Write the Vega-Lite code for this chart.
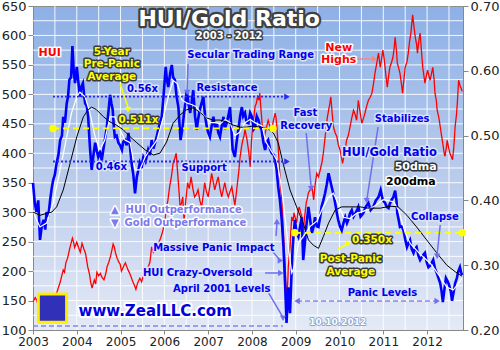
{
"$schema":"https://vega.github.io/schema/vega-lite/v6.json",
"width":430,"height":324,
"autosize":{"type":"none"},
"padding":{"left":33,"top":6,"right":37,"bottom":20},
"background":"white",
"view":{"fill":{"gradient":"linear","x1":0,"y1":0,"x2":0,"y2":1,"stops":[{"offset":0,"color":"#8db0e6"},{"offset":0.55,"color":"#bccdec"},{"offset":1,"color":"#e4eaf6"}]},"stroke":"#8c8c8c","strokeWidth":1},
"config":{"font":"DejaVu Sans","axis":{"labelFont":"DejaVu Sans","labelFontSize":13,"labelColor":"#222","domainColor":"#888","tickColor":"#888","title":null,"labelFlush":false,"labelOverlap":false,"grid":false}},
"datasets":{
"gridT":[{"t":2003.5},{"t":2004},{"t":2004.5},{"t":2005},{"t":2005.5},{"t":2006},{"t":2006.5},{"t":2007},{"t":2007.5},{"t":2008},{"t":2008.5},{"t":2009},{"t":2009.5},{"t":2010},{"t":2010.5},{"t":2011},{"t":2011.5},{"t":2012},{"t":2012.5}],
"gridV":[{"v":125},{"v":150},{"v":175},{"v":200},{"v":225},{"v":250},{"v":275},{"v":300},{"v":325},{"v":350},{"v":375},{"v":400},{"v":425},{"v":450},{"v":475},{"v":500},{"v":525},{"v":550},{"v":575},{"v":600},{"v":625}],
"hui":[{"t":2003.00,"v":148},{"t":2003.05,"v":155},{"t":2003.09,"v":150},{"t":2003.12,"v":140},{"t":2003.16,"v":133},{"t":2003.20,"v":128},{"t":2003.25,"v":130},{"t":2003.30,"v":125},{"t":2003.34,"v":138},{"t":2003.38,"v":145},{"t":2003.42,"v":142},{"t":2003.45,"v":150},{"t":2003.49,"v":155},{"t":2003.52,"v":160},{"t":2003.55,"v":165},{"t":2003.58,"v":172},{"t":2003.62,"v":181},{"t":2003.65,"v":190},{"t":2003.69,"v":202},{"t":2003.72,"v":198},{"t":2003.75,"v":214},{"t":2003.79,"v":222},{"t":2003.82,"v":232},{"t":2003.86,"v":245},{"t":2003.90,"v":256},{"t":2003.93,"v":248},{"t":2003.95,"v":240},{"t":2004.00,"v":249},{"t":2004.04,"v":240},{"t":2004.08,"v":232},{"t":2004.12,"v":247},{"t":2004.16,"v":238},{"t":2004.20,"v":230},{"t":2004.25,"v":207},{"t":2004.29,"v":195},{"t":2004.32,"v":180},{"t":2004.35,"v":171},{"t":2004.38,"v":180},{"t":2004.40,"v":185},{"t":2004.43,"v":178},{"t":2004.46,"v":198},{"t":2004.50,"v":192},{"t":2004.54,"v":196},{"t":2004.57,"v":190},{"t":2004.62,"v":185},{"t":2004.66,"v":195},{"t":2004.69,"v":207},{"t":2004.73,"v":215},{"t":2004.77,"v":225},{"t":2004.80,"v":235},{"t":2004.83,"v":246},{"t":2004.86,"v":240},{"t":2004.88,"v":232},{"t":2004.92,"v":222},{"t":2004.96,"v":215},{"t":2004.99,"v":212},{"t":2005.02,"v":200},{"t":2005.05,"v":205},{"t":2005.08,"v":210},{"t":2005.11,"v":214},{"t":2005.14,"v":208},{"t":2005.17,"v":202},{"t":2005.21,"v":196},{"t":2005.24,"v":190},{"t":2005.29,"v":180},{"t":2005.32,"v":175},{"t":2005.35,"v":169},{"t":2005.39,"v":180},{"t":2005.44,"v":188},{"t":2005.48,"v":182},{"t":2005.52,"v":192},{"t":2005.56,"v":198},{"t":2005.59,"v":195},{"t":2005.62,"v":205},{"t":2005.67,"v":215},{"t":2005.71,"v":241},{"t":2005.75,"v":232},{"t":2005.79,"v":236},{"t":2005.83,"v":242},{"t":2005.87,"v":248},{"t":2005.90,"v":253},{"t":2005.94,"v":262},{"t":2005.97,"v":270},{"t":2006.01,"v":285},{"t":2006.04,"v":304},{"t":2006.08,"v":320},{"t":2006.12,"v":343},{"t":2006.16,"v":360},{"t":2006.20,"v":383},{"t":2006.24,"v":392},{"t":2006.27,"v":400},{"t":2006.31,"v":360},{"t":2006.36,"v":309},{"t":2006.39,"v":315},{"t":2006.42,"v":326},{"t":2006.45,"v":285},{"t":2006.49,"v":320},{"t":2006.53,"v":350},{"t":2006.57,"v":340},{"t":2006.61,"v":360},{"t":2006.65,"v":340},{"t":2006.69,"v":326},{"t":2006.73,"v":330},{"t":2006.77,"v":338},{"t":2006.81,"v":320},{"t":2006.85,"v":309},{"t":2006.89,"v":330},{"t":2006.92,"v":350},{"t":2006.96,"v":335},{"t":2007.00,"v":326},{"t":2007.04,"v":345},{"t":2007.08,"v":366},{"t":2007.12,"v":350},{"t":2007.15,"v":338},{"t":2007.19,"v":350},{"t":2007.23,"v":360},{"t":2007.27,"v":340},{"t":2007.31,"v":326},{"t":2007.35,"v":340},{"t":2007.38,"v":350},{"t":2007.42,"v":335},{"t":2007.46,"v":326},{"t":2007.50,"v":335},{"t":2007.54,"v":343},{"t":2007.58,"v":325},{"t":2007.61,"v":312},{"t":2007.64,"v":330},{"t":2007.67,"v":350},{"t":2007.70,"v":370},{"t":2007.73,"v":394},{"t":2007.76,"v":410},{"t":2007.79,"v":422},{"t":2007.82,"v":430},{"t":2007.84,"v":440},{"t":2007.87,"v":430},{"t":2007.89,"v":422},{"t":2007.93,"v":400},{"t":2007.96,"v":377},{"t":2007.99,"v":420},{"t":2008.02,"v":451},{"t":2008.05,"v":465},{"t":2008.07,"v":479},{"t":2008.10,"v":485},{"t":2008.13,"v":496},{"t":2008.16,"v":490},{"t":2008.18,"v":502},{"t":2008.20,"v":480},{"t":2008.22,"v":462},{"t":2008.24,"v":440},{"t":2008.26,"v":422},{"t":2008.29,"v":430},{"t":2008.32,"v":440},{"t":2008.35,"v":450},{"t":2008.37,"v":456},{"t":2008.41,"v":445},{"t":2008.45,"v":440},{"t":2008.49,"v":455},{"t":2008.53,"v":468},{"t":2008.55,"v":460},{"t":2008.57,"v":445},{"t":2008.60,"v":410},{"t":2008.63,"v":372},{"t":2008.66,"v":340},{"t":2008.68,"v":321},{"t":2008.70,"v":295},{"t":2008.72,"v":265},{"t":2008.74,"v":235},{"t":2008.76,"v":207},{"t":2008.78,"v":170},{"t":2008.80,"v":155},{"t":2008.82,"v":185},{"t":2008.83,"v":207},{"t":2008.85,"v":225},{"t":2008.87,"v":241},{"t":2008.89,"v":270},{"t":2008.91,"v":292},{"t":2008.94,"v":285},{"t":2008.96,"v":299},{"t":2008.99,"v":290},{"t":2009.02,"v":282},{"t":2009.05,"v":300},{"t":2009.08,"v":309},{"t":2009.11,"v":300},{"t":2009.14,"v":292},{"t":2009.17,"v":265},{"t":2009.20,"v":290},{"t":2009.24,"v":316},{"t":2009.27,"v":325},{"t":2009.29,"v":333},{"t":2009.33,"v":338},{"t":2009.37,"v":343},{"t":2009.41,"v":321},{"t":2009.44,"v":345},{"t":2009.48,"v":366},{"t":2009.52,"v":360},{"t":2009.56,"v":372},{"t":2009.60,"v":385},{"t":2009.63,"v":400},{"t":2009.66,"v":420},{"t":2009.69,"v":440},{"t":2009.72,"v":460},{"t":2009.75,"v":473},{"t":2009.78,"v":485},{"t":2009.80,"v":496},{"t":2009.83,"v":470},{"t":2009.86,"v":445},{"t":2009.90,"v":435},{"t":2009.94,"v":428},{"t":2009.97,"v":415},{"t":2010.01,"v":406},{"t":2010.04,"v":395},{"t":2010.07,"v":383},{"t":2010.10,"v":395},{"t":2010.13,"v":406},{"t":2010.16,"v":422},{"t":2010.20,"v":430},{"t":2010.24,"v":445},{"t":2010.28,"v":460},{"t":2010.32,"v":473},{"t":2010.36,"v":465},{"t":2010.39,"v":456},{"t":2010.43,"v":490},{"t":2010.47,"v":470},{"t":2010.51,"v":451},{"t":2010.55,"v":460},{"t":2010.58,"v":468},{"t":2010.62,"v":480},{"t":2010.66,"v":490},{"t":2010.70,"v":495},{"t":2010.74,"v":502},{"t":2010.78,"v":520},{"t":2010.81,"v":536},{"t":2010.85,"v":553},{"t":2010.89,"v":570},{"t":2010.93,"v":546},{"t":2010.96,"v":560},{"t":2010.99,"v":575},{"t":2011.02,"v":560},{"t":2011.04,"v":546},{"t":2011.07,"v":525},{"t":2011.09,"v":512},{"t":2011.12,"v":530},{"t":2011.15,"v":546},{"t":2011.19,"v":555},{"t":2011.22,"v":563},{"t":2011.25,"v":580},{"t":2011.27,"v":597},{"t":2011.30,"v":575},{"t":2011.32,"v":553},{"t":2011.35,"v":545},{"t":2011.38,"v":536},{"t":2011.41,"v":520},{"t":2011.44,"v":502},{"t":2011.47,"v":525},{"t":2011.50,"v":546},{"t":2011.54,"v":555},{"t":2011.57,"v":570},{"t":2011.60,"v":590},{"t":2011.63,"v":604},{"t":2011.65,"v":620},{"t":2011.67,"v":635},{"t":2011.70,"v":615},{"t":2011.73,"v":597},{"t":2011.76,"v":585},{"t":2011.78,"v":570},{"t":2011.81,"v":590},{"t":2011.84,"v":604},{"t":2011.87,"v":575},{"t":2011.90,"v":546},{"t":2011.93,"v":530},{"t":2011.95,"v":519},{"t":2011.98,"v":530},{"t":2012.01,"v":541},{"t":2012.04,"v":532},{"t":2012.07,"v":524},{"t":2012.10,"v":535},{"t":2012.13,"v":546},{"t":2012.16,"v":525},{"t":2012.18,"v":502},{"t":2012.21,"v":490},{"t":2012.23,"v":473},{"t":2012.27,"v":460},{"t":2012.30,"v":445},{"t":2012.33,"v":430},{"t":2012.37,"v":411},{"t":2012.39,"v":400},{"t":2012.41,"v":395},{"t":2012.44,"v":410},{"t":2012.46,"v":422},{"t":2012.49,"v":410},{"t":2012.52,"v":400},{"t":2012.55,"v":395},{"t":2012.58,"v":389},{"t":2012.61,"v":410},{"t":2012.64,"v":445},{"t":2012.67,"v":465},{"t":2012.69,"v":485},{"t":2012.72,"v":524},{"t":2012.75,"v":515},{"t":2012.77,"v":512},{"t":2012.80,"v":505}],
"ratio":[{"t":2003.00,"r":0.427},{"t":2003.04,"r":0.396},{"t":2003.08,"r":0.382},{"t":2003.12,"r":0.40},{"t":2003.16,"r":0.339},{"t":2003.20,"r":0.36},{"t":2003.24,"r":0.37},{"t":2003.28,"r":0.355},{"t":2003.31,"r":0.382},{"t":2003.35,"r":0.375},{"t":2003.39,"r":0.40},{"t":2003.43,"r":0.42},{"t":2003.46,"r":0.431},{"t":2003.50,"r":0.44},{"t":2003.54,"r":0.458},{"t":2003.58,"r":0.47},{"t":2003.62,"r":0.493},{"t":2003.66,"r":0.50},{"t":2003.69,"r":0.529},{"t":2003.73,"r":0.52},{"t":2003.77,"r":0.550},{"t":2003.80,"r":0.56},{"t":2003.83,"r":0.586},{"t":2003.87,"r":0.59},{"t":2003.90,"r":0.638},{"t":2003.93,"r":0.60},{"t":2003.96,"r":0.581},{"t":2004.00,"r":0.606},{"t":2004.04,"r":0.58},{"t":2004.07,"r":0.560},{"t":2004.10,"r":0.575},{"t":2004.14,"r":0.581},{"t":2004.17,"r":0.56},{"t":2004.19,"r":0.550},{"t":2004.23,"r":0.545},{"t":2004.26,"r":0.529},{"t":2004.30,"r":0.482},{"t":2004.34,"r":0.447},{"t":2004.38,"r":0.47},{"t":2004.42,"r":0.489},{"t":2004.46,"r":0.475},{"t":2004.49,"r":0.467},{"t":2004.53,"r":0.475},{"t":2004.57,"r":0.462},{"t":2004.61,"r":0.48},{"t":2004.64,"r":0.493},{"t":2004.68,"r":0.51},{"t":2004.72,"r":0.535},{"t":2004.76,"r":0.563},{"t":2004.79,"r":0.55},{"t":2004.82,"r":0.540},{"t":2004.85,"r":0.51},{"t":2004.87,"r":0.498},{"t":2004.91,"r":0.50},{"t":2004.95,"r":0.489},{"t":2004.99,"r":0.485},{"t":2005.03,"r":0.478},{"t":2005.06,"r":0.49},{"t":2005.10,"r":0.493},{"t":2005.14,"r":0.485},{"t":2005.18,"r":0.504},{"t":2005.22,"r":0.48},{"t":2005.25,"r":0.458},{"t":2005.29,"r":0.44},{"t":2005.33,"r":0.411},{"t":2005.37,"r":0.436},{"t":2005.40,"r":0.445},{"t":2005.44,"r":0.458},{"t":2005.48,"r":0.45},{"t":2005.52,"r":0.467},{"t":2005.57,"r":0.46},{"t":2005.63,"r":0.478},{"t":2005.67,"r":0.47},{"t":2005.71,"r":0.493},{"t":2005.75,"r":0.48},{"t":2005.79,"r":0.489},{"t":2005.83,"r":0.50},{"t":2005.86,"r":0.509},{"t":2005.90,"r":0.52},{"t":2005.94,"r":0.529},{"t":2005.98,"r":0.56},{"t":2006.03,"r":0.606},{"t":2006.06,"r":0.585},{"t":2006.09,"r":0.575},{"t":2006.13,"r":0.595},{"t":2006.17,"r":0.609},{"t":2006.20,"r":0.59},{"t":2006.24,"r":0.586},{"t":2006.28,"r":0.56},{"t":2006.32,"r":0.544},{"t":2006.37,"r":0.493},{"t":2006.41,"r":0.51},{"t":2006.45,"r":0.535},{"t":2006.48,"r":0.55},{"t":2006.51,"r":0.570},{"t":2006.55,"r":0.55},{"t":2006.59,"r":0.535},{"t":2006.62,"r":0.55},{"t":2006.66,"r":0.570},{"t":2006.70,"r":0.53},{"t":2006.74,"r":0.509},{"t":2006.77,"r":0.525},{"t":2006.81,"r":0.540},{"t":2006.85,"r":0.55},{"t":2006.89,"r":0.560},{"t":2006.93,"r":0.53},{"t":2006.97,"r":0.513},{"t":2007.00,"r":0.505},{"t":2007.04,"r":0.498},{"t":2007.08,"r":0.515},{"t":2007.12,"r":0.529},{"t":2007.16,"r":0.51},{"t":2007.20,"r":0.519},{"t":2007.23,"r":0.505},{"t":2007.27,"r":0.498},{"t":2007.31,"r":0.515},{"t":2007.35,"r":0.529},{"t":2007.38,"r":0.51},{"t":2007.42,"r":0.519},{"t":2007.46,"r":0.53},{"t":2007.50,"r":0.544},{"t":2007.53,"r":0.51},{"t":2007.56,"r":0.478},{"t":2007.61,"r":0.467},{"t":2007.65,"r":0.49},{"t":2007.69,"r":0.509},{"t":2007.73,"r":0.53},{"t":2007.77,"r":0.544},{"t":2007.80,"r":0.53},{"t":2007.84,"r":0.535},{"t":2007.88,"r":0.52},{"t":2007.92,"r":0.519},{"t":2007.96,"r":0.535},{"t":2008.00,"r":0.529},{"t":2008.04,"r":0.51},{"t":2008.07,"r":0.513},{"t":2008.11,"r":0.53},{"t":2008.15,"r":0.524},{"t":2008.18,"r":0.515},{"t":2008.22,"r":0.509},{"t":2008.26,"r":0.49},{"t":2008.30,"r":0.478},{"t":2008.34,"r":0.49},{"t":2008.37,"r":0.493},{"t":2008.41,"r":0.48},{"t":2008.45,"r":0.473},{"t":2008.50,"r":0.47},{"t":2008.56,"r":0.45},{"t":2008.60,"r":0.421},{"t":2008.64,"r":0.40},{"t":2008.68,"r":0.370},{"t":2008.72,"r":0.328},{"t":2008.76,"r":0.266},{"t":2008.79,"r":0.211},{"t":2008.81,"r":0.24},{"t":2008.83,"r":0.266},{"t":2008.87,"r":0.226},{"t":2008.90,"r":0.28},{"t":2008.93,"r":0.328},{"t":2008.98,"r":0.370},{"t":2009.02,"r":0.35},{"t":2009.06,"r":0.344},{"t":2009.10,"r":0.36},{"t":2009.14,"r":0.374},{"t":2009.17,"r":0.308},{"t":2009.21,"r":0.335},{"t":2009.24,"r":0.359},{"t":2009.29,"r":0.390},{"t":2009.33,"r":0.37},{"t":2009.37,"r":0.350},{"t":2009.41,"r":0.36},{"t":2009.44,"r":0.374},{"t":2009.48,"r":0.36},{"t":2009.52,"r":0.359},{"t":2009.56,"r":0.375},{"t":2009.59,"r":0.390},{"t":2009.63,"r":0.40},{"t":2009.67,"r":0.411},{"t":2009.71,"r":0.425},{"t":2009.75,"r":0.442},{"t":2009.79,"r":0.43},{"t":2009.82,"r":0.421},{"t":2009.86,"r":0.41},{"t":2009.90,"r":0.396},{"t":2009.94,"r":0.38},{"t":2009.97,"r":0.370},{"t":2010.01,"r":0.36},{"t":2010.05,"r":0.354},{"t":2010.09,"r":0.365},{"t":2010.13,"r":0.374},{"t":2010.17,"r":0.365},{"t":2010.20,"r":0.370},{"t":2010.24,"r":0.38},{"t":2010.28,"r":0.385},{"t":2010.32,"r":0.375},{"t":2010.36,"r":0.380},{"t":2010.40,"r":0.385},{"t":2010.43,"r":0.390},{"t":2010.48,"r":0.375},{"t":2010.54,"r":0.380},{"t":2010.60,"r":0.39},{"t":2010.66,"r":0.396},{"t":2010.71,"r":0.385},{"t":2010.77,"r":0.390},{"t":2010.83,"r":0.40},{"t":2010.89,"r":0.405},{"t":2010.94,"r":0.416},{"t":2010.99,"r":0.40},{"t":2011.04,"r":0.396},{"t":2011.08,"r":0.39},{"t":2011.12,"r":0.388},{"t":2011.15,"r":0.395},{"t":2011.19,"r":0.401},{"t":2011.23,"r":0.405},{"t":2011.27,"r":0.415},{"t":2011.30,"r":0.40},{"t":2011.32,"r":0.380},{"t":2011.35,"r":0.37},{"t":2011.38,"r":0.359},{"t":2011.42,"r":0.36},{"t":2011.46,"r":0.354},{"t":2011.50,"r":0.34},{"t":2011.54,"r":0.328},{"t":2011.58,"r":0.335},{"t":2011.61,"r":0.339},{"t":2011.65,"r":0.325},{"t":2011.69,"r":0.319},{"t":2011.72,"r":0.325},{"t":2011.76,"r":0.328},{"t":2011.80,"r":0.315},{"t":2011.84,"r":0.308},{"t":2011.90,"r":0.315},{"t":2011.95,"r":0.319},{"t":2011.99,"r":0.305},{"t":2012.03,"r":0.297},{"t":2012.08,"r":0.30},{"t":2012.14,"r":0.308},{"t":2012.18,"r":0.295},{"t":2012.21,"r":0.290},{"t":2012.26,"r":0.28},{"t":2012.30,"r":0.272},{"t":2012.33,"r":0.26},{"t":2012.36,"r":0.243},{"t":2012.40,"r":0.265},{"t":2012.43,"r":0.280},{"t":2012.47,"r":0.275},{"t":2012.50,"r":0.270},{"t":2012.54,"r":0.26},{"t":2012.57,"r":0.245},{"t":2012.61,"r":0.26},{"t":2012.64,"r":0.272},{"t":2012.68,"r":0.28},{"t":2012.71,"r":0.290},{"t":2012.75,"r":0.297},{"t":2012.78,"r":0.288},{"t":2012.80,"r":0.285}],
"ma50":[{"t":2003.00,"r":0.385},{"t":2003.08,"r":0.37},{"t":2003.16,"r":0.359},{"t":2003.31,"r":0.365},{"t":2003.46,"r":0.396},{"t":2003.62,"r":0.447},{"t":2003.77,"r":0.498},{"t":2003.88,"r":0.535},{"t":2004.00,"r":0.560},{"t":2004.07,"r":0.567},{"t":2004.19,"r":0.560},{"t":2004.30,"r":0.535},{"t":2004.42,"r":0.498},{"t":2004.53,"r":0.478},{"t":2004.64,"r":0.493},{"t":2004.76,"r":0.529},{"t":2004.87,"r":0.529},{"t":2004.99,"r":0.509},{"t":2005.10,"r":0.493},{"t":2005.22,"r":0.489},{"t":2005.33,"r":0.447},{"t":2005.44,"r":0.447},{"t":2005.56,"r":0.467},{"t":2005.67,"r":0.478},{"t":2005.83,"r":0.493},{"t":2005.98,"r":0.529},{"t":2006.09,"r":0.560},{"t":2006.20,"r":0.585},{"t":2006.30,"r":0.580},{"t":2006.40,"r":0.555},{"t":2006.52,"r":0.550},{"t":2006.62,"r":0.548},{"t":2006.72,"r":0.545},{"t":2006.83,"r":0.535},{"t":2006.93,"r":0.530},{"t":2007.05,"r":0.52},{"t":2007.16,"r":0.52},{"t":2007.28,"r":0.518},{"t":2007.39,"r":0.525},{"t":2007.50,"r":0.52},{"t":2007.61,"r":0.50},{"t":2007.72,"r":0.505},{"t":2007.84,"r":0.52},{"t":2007.96,"r":0.525},{"t":2008.07,"r":0.52},{"t":2008.23,"r":0.515},{"t":2008.32,"r":0.49},{"t":2008.41,"r":0.48},{"t":2008.50,"r":0.47},{"t":2008.57,"r":0.462},{"t":2008.65,"r":0.43},{"t":2008.72,"r":0.396},{"t":2008.78,"r":0.36},{"t":2008.83,"r":0.328},{"t":2008.91,"r":0.288},{"t":2008.98,"r":0.300},{"t":2009.06,"r":0.334},{"t":2009.17,"r":0.344},{"t":2009.33,"r":0.360},{"t":2009.48,"r":0.368},{"t":2009.63,"r":0.390},{"t":2009.75,"r":0.405},{"t":2009.86,"r":0.411},{"t":2009.97,"r":0.395},{"t":2010.09,"r":0.374},{"t":2010.24,"r":0.372},{"t":2010.39,"r":0.380},{"t":2010.54,"r":0.383},{"t":2010.77,"r":0.390},{"t":2011.00,"r":0.401},{"t":2011.23,"r":0.398},{"t":2011.35,"r":0.385},{"t":2011.50,"r":0.350},{"t":2011.61,"r":0.334},{"t":2011.84,"r":0.317},{"t":2012.07,"r":0.303},{"t":2012.30,"r":0.282},{"t":2012.45,"r":0.266},{"t":2012.60,"r":0.262},{"t":2012.75,"r":0.275},{"t":2012.80,"r":0.280}],
"ma200":[{"t":2003.00,"r":0.382},{"t":2003.16,"r":0.377},{"t":2003.31,"r":0.380},{"t":2003.43,"r":0.382},{"t":2003.54,"r":0.390},{"t":2003.69,"r":0.416},{"t":2003.85,"r":0.458},{"t":2004.00,"r":0.498},{"t":2004.15,"r":0.529},{"t":2004.26,"r":0.540},{"t":2004.34,"r":0.544},{"t":2004.45,"r":0.540},{"t":2004.61,"r":0.529},{"t":2004.76,"r":0.521},{"t":2004.91,"r":0.516},{"t":2005.06,"r":0.509},{"t":2005.22,"r":0.498},{"t":2005.37,"r":0.489},{"t":2005.56,"r":0.478},{"t":2005.75,"r":0.470},{"t":2005.90,"r":0.473},{"t":2006.05,"r":0.490},{"t":2006.20,"r":0.519},{"t":2006.36,"r":0.532},{"t":2006.51,"r":0.540},{"t":2006.66,"r":0.543},{"t":2006.81,"r":0.536},{"t":2006.97,"r":0.527},{"t":2007.12,"r":0.524},{"t":2007.27,"r":0.524},{"t":2007.42,"r":0.521},{"t":2007.58,"r":0.516},{"t":2007.73,"r":0.513},{"t":2007.88,"r":0.513},{"t":2008.03,"r":0.515},{"t":2008.18,"r":0.513},{"t":2008.34,"r":0.512},{"t":2008.49,"r":0.504},{"t":2008.60,"r":0.489},{"t":2008.72,"r":0.455},{"t":2008.87,"r":0.416},{"t":2009.02,"r":0.390},{"t":2009.17,"r":0.365},{"t":2009.29,"r":0.339},{"t":2009.40,"r":0.331},{"t":2009.52,"r":0.326},{"t":2009.63,"r":0.344},{"t":2009.75,"r":0.365},{"t":2009.90,"r":0.385},{"t":2010.05,"r":0.390},{"t":2010.24,"r":0.390},{"t":2010.47,"r":0.390},{"t":2010.66,"r":0.388},{"t":2010.93,"r":0.388},{"t":2011.15,"r":0.391},{"t":2011.34,"r":0.390},{"t":2011.54,"r":0.377},{"t":2011.76,"r":0.359},{"t":2011.99,"r":0.339},{"t":2012.22,"r":0.319},{"t":2012.45,"r":0.300},{"t":2012.64,"r":0.290},{"t":2012.75,"r":0.285},{"t":2012.80,"r":0.283}],
"levelsBlue":[{"t1":2003.457,"t2":2008.78,"r":0.56},{"t1":2003.457,"t2":2008.78,"r":0.46}],
"levelsYellow":[{"t1":2003.457,"t2":2008.48,"r":0.511},{"t1":2008.98,"t2":2012.80,"r":0.35}],
"dots":[{"t":2003.457,"r":0.511},{"t":2008.48,"r":0.511},{"t":2008.98,"r":0.35},{"t":2012.80,"r":0.35}],
"dashes":[{"t1":2009.03,"t2":2012.23,"v":149.2},{"t1":2003.0,"t2":2008.71,"v":106.8}],
"arrows":[{"t":2004.99,"v":517.6,"t2":2005.17,"v2":478,"kind":"yellow"},{"t":2006.54,"v":551.5,"t2":2006.52,"v2":507,"kind":"lav"},{"t":2010.40,"v":560,"t2":2010.77,"v2":560,"kind":"pink"},{"t":2009.24,"v":434.4,"t2":2009.35,"v2":344.4,"kind":"lav"},{"t":2010.88,"v":444.6,"t2":2010.63,"v2":324.1,"kind":"lav"},{"t":2012.30,"v":278.2,"t2":2012.23,"v2":229,"kind":"lav"},{"t":2009.97,"v":237.5,"t2":2010.17,"v2":246,"kind":"yellow"},{"t":2008.55,"v":259.6,"t2":2008.57,"v2":280,"kind":"lav"},{"t":2008.48,"v":232.4,"t2":2008.62,"v2":220.5,"kind":"lav"},{"t":2008.30,"v":196.8,"t2":2008.62,"v2":196.8,"kind":"lav"},{"t":2008.37,"v":164.5,"t2":2008.69,"v2":123.8,"kind":"lav"}],
"heads":[{"t":2005.17,"v":474,"head":"down","kind":"yellow"},{"t":2006.52,"v":503,"head":"down","kind":"lav"},{"t":2010.80,"v":560,"head":"right","kind":"pink"},{"t":2009.35,"v":340,"head":"down","kind":"lav"},{"t":2010.62,"v":320,"head":"down","kind":"lav"},{"t":2012.23,"v":225,"head":"down","kind":"lav"},{"t":2010.20,"v":247,"head":"right","kind":"yellow"},{"t":2008.57,"v":284,"head":"up","kind":"lav"},{"t":2008.65,"v":218,"head":"right","kind":"lav"},{"t":2008.66,"v":196.8,"head":"right","kind":"lav"},{"t":2008.71,"v":120,"head":"down","kind":"lav"},{"t":2009.03,"v":149.2,"head":"left","kind":"lav"},{"t":2012.23,"v":149.2,"head":"right","kind":"lav"},{"t":2008.80,"v":496,"head":"right","kind":"blue"},{"t":2008.80,"v":386,"head":"right","kind":"blue"}],
"logo":[{"t":2003.445,"v":137.3}],
"labels":[{"t":2003.38,"v":569.7,"text":"HUI","kind":"red"},{"t":2004.80,"v":571.9,"text":"5-Year","kind":"yellow"},{"t":2004.80,"v":551.5,"text":"Pre-Panic","kind":"yellow"},{"t":2004.80,"v":530,"text":"Average","kind":"yellow"},{"t":2005.50,"v":509,"text":"0.56x","kind":"blue"},{"t":2007.43,"v":510.8,"text":"Resistance","kind":"blue"},{"t":2005.41,"v":456.5,"text":"0.511x","kind":"yellow"},{"t":2004.79,"v":376.2,"text":"0.46x","kind":"blue"},{"t":2006.91,"v":374.5,"text":"Support","kind":"blue"},{"t":2007.97,"v":566.8,"text":"Secular Trading Range","kind":"blue"},{"t":2009.98,"v":578.2,"text":"New","kind":"red"},{"t":2009.98,"v":558.3,"text":"Highs","kind":"red"},{"t":2009.22,"v":468.9,"text":"Fast","kind":"blue"},{"t":2009.24,"v":446.8,"text":"Recovery","kind":"blue"},{"t":2011.43,"v":458.2,"text":"Stabilizes","kind":"blue"},{"t":2011.14,"v":400.5,"text":"HUI/Gold Ratio","kind":"bluebig"},{"t":2011.74,"v":377.2,"text":"50dma","kind":"white"},{"t":2011.63,"v":351.7,"text":"200dma","kind":"black"},{"t":2012.18,"v":292.3,"text":"Collapse","kind":"blue"},{"t":2010.74,"v":252.8,"text":"0.350x","kind":"yellow"},{"t":2010.26,"v":220,"text":"Post-Panic","kind":"yellow"},{"t":2010.26,"v":199,"text":"Average","kind":"yellow"},{"t":2010.98,"v":162.3,"text":"Panic Levels","kind":"blue"},{"t":2009.96,"v":114.1,"text":"10.10.2012","kind":"date"},{"t":2004.87,"v":303.7,"text":"▲","kind":"purple"},{"t":2004.87,"v":281.6,"text":"▼","kind":"purple"},{"t":2006.44,"v":303.7,"text":"HUI Outperformance","kind":"purple"},{"t":2006.48,"v":281.6,"text":"Gold Outperformance","kind":"purple"},{"t":2007.13,"v":238.7,"text":"Massive Panic Impact","kind":"blue"},{"t":2006.76,"v":197.3,"text":"HUI Crazy-Oversold","kind":"blue"},{"t":2007.31,"v":169,"text":"April 2001 Levels","kind":"blue"},{"t":2005.79,"v":132.3,"text":"www.ZealLLC.com","kind":"url"},{"t":2007.48,"v":628,"text":"HUI/Gold Ratio","kind":"title"},{"t":2007.48,"v":599,"text":"2003 - 2012","kind":"sub"}]
},
"layer":[
{"layer":[
  {"data":{"name":"gridT"},"mark":{"type":"rule","color":"#ffffff","strokeWidth":1,"opacity":0.9},
   "encoding":{"x":{"field":"t","type":"quantitative","scale":{"domain":[2003,2012.82],"nice":false,"zero":false},"axis":{"title":null,"values":[2003,2004,2005,2006,2007,2008,2009,2010,2011,2012],"format":"d","tickSize":4,"labelPadding":2,"labelFontSize":12,"labelOverlap":false,"labelFlush":false}}}},
  {"data":{"name":"gridV"},"mark":{"type":"rule","color":"#ffffff","strokeWidth":1,"opacity":0.9},
   "encoding":{"y":{"field":"v","type":"quantitative","scale":{"domain":[100,650],"nice":false,"zero":false},"axis":{"title":null,"orient":"left","values":[100,150,200,250,300,350,400,450,500,550,600,650],"format":"d","labelOverlap":false,"labelFlush":false,"tickSize":5,"labelPadding":2}}}},
  {"data":{"name":"hui"},"mark":{"type":"line","color":"#ff0000","strokeWidth":1.3},
   "encoding":{
    "x":{"field":"t","type":"quantitative","axis":{"title":null,"values":[2003,2004,2005,2006,2007,2008,2009,2010,2011,2012],"format":"d","tickSize":4,"labelPadding":2,"labelFontSize":12,"labelOverlap":false,"labelFlush":false}},
    "y":{"field":"v","type":"quantitative","axis":{"title":null,"orient":"left","values":[100,150,200,250,300,350,400,450,500,550,600,650],"format":"d","labelOverlap":false,"labelFlush":false,"tickSize":5,"labelPadding":2}}
   }}
 ]},
{"layer":[
  {"data":{"name":"ratio"},"mark":{"type":"line","color":"#0000ff","strokeWidth":2.6},
   "encoding":{"x":{"field":"t","type":"quantitative"},
   "y":{"field":"r","type":"quantitative","scale":{"domain":[0.2,0.7],"nice":false,"zero":false},"axis":{"title":null,"orient":"right","values":[0.2,0.25,0.3,0.35,0.4,0.45,0.5,0.55,0.6,0.65,0.7],"format":".2f","labelOverlap":false,"labelFlush":false,"tickSize":5,"labelPadding":2}}}},
  {"data":{"name":"ma50"},"mark":{"type":"line","color":"#ffffff","strokeWidth":1.2},
   "encoding":{"x":{"field":"t","type":"quantitative"},"y":{"field":"r","type":"quantitative"}}},
  {"data":{"name":"ma200"},"mark":{"type":"line","color":"#000000","strokeWidth":1},
   "encoding":{"x":{"field":"t","type":"quantitative"},"y":{"field":"r","type":"quantitative"}}},
  {"data":{"name":"levelsBlue"},"mark":{"type":"rule","color":"#2a2af0","strokeWidth":1.8,"strokeDash":[2,2]},
   "encoding":{"x":{"field":"t1","type":"quantitative"},"x2":{"field":"t2"},"y":{"field":"r","type":"quantitative"}}},
  {"data":{"name":"levelsYellow"},"mark":{"type":"rule","color":"#ffff00","strokeWidth":1.8,"strokeDash":[6,4]},
   "encoding":{"x":{"field":"t1","type":"quantitative"},"x2":{"field":"t2"},"y":{"field":"r","type":"quantitative"}}},
  {"data":{"name":"dots"},"mark":{"type":"point","filled":true,"color":"#ffff00","size":55,"opacity":1},
   "encoding":{"x":{"field":"t","type":"quantitative"},"y":{"field":"r","type":"quantitative"}}}
 ]},
{"layer":[
  {"data":{"name":"dashes"},"mark":{"type":"rule","color":"#8484ee","strokeWidth":1.6,"strokeDash":[5,3]},
   "encoding":{"x":{"field":"t1","type":"quantitative"},"x2":{"field":"t2"},"y":{"field":"v","type":"quantitative","scale":{"domain":[100,650],"nice":false,"zero":false},"axis":null}}},
  {"data":{"name":"arrows"},"mark":{"type":"rule","strokeWidth":1.5},
   "encoding":{"x":{"field":"t","type":"quantitative"},"x2":{"field":"t2"},"y":{"field":"v","type":"quantitative","axis":null},"y2":{"field":"v2"},
   "color":{"field":"kind","type":"nominal","scale":{"domain":["yellow","pink","lav","blue"],"range":["#ffff00","#f08a8a","#6f6ff0","#2a2af0"]},"legend":null}}},
  {"data":{"name":"heads"},"mark":{"type":"point","filled":true,"size":40,"opacity":1},
   "encoding":{"x":{"field":"t","type":"quantitative"},"y":{"field":"v","type":"quantitative","axis":null},
   "shape":{"field":"head","type":"nominal","scale":{"domain":["up","down","left","right"],"range":["triangle-up","triangle-down","triangle-left","triangle-right"]},"legend":null},
   "color":{"field":"kind","type":"nominal","scale":{"domain":["yellow","pink","lav","blue"],"range":["#ffff00","#f08a8a","#6f6ff0","#2a2af0"]},"legend":null}}},
  {"data":{"name":"logo"},"mark":{"type":"point","shape":"square","filled":true,"size":800,"color":"#3030b8","stroke":"#ffee00","strokeWidth":3,"opacity":1},
   "encoding":{"x":{"field":"t","type":"quantitative"},"y":{"field":"v","type":"quantitative","axis":null}}},
  {"data":{"name":"labels"},"mark":{"type":"text","fontWeight":"bold","fillOpacity":0,"strokeJoin":"round","align":"center","baseline":"middle"},
   "encoding":{"x":{"field":"t","type":"quantitative"},"y":{"field":"v","type":"quantitative","axis":null},"text":{"field":"text"},
   "stroke":{"field":"kind","type":"nominal","scale":{"domain":["blue","bluebig","yellow","red","white","black","purple","date","url","title","sub"],"range":["#dbe3f5","#dbe3f5","#3a3a3a","#ffffff","#333333","#ffffff","#ffffff","#8196c4","#ffffff","#404040","#404040"]},"legend":null},
   "strokeWidth":{"field":"kind","type":"nominal","scale":{"type":"ordinal","domain":["blue","bluebig","yellow","red","white","black","purple","date","url","title","sub"],"range":[3,3,3,3,3,3,3,1.5,4,4.5,3]},"legend":null},
   "size":{"field":"kind","type":"nominal","scale":{"type":"ordinal","domain":["blue","bluebig","yellow","red","white","black","purple","date","url","title","sub"],"range":[10,11.5,10.5,11,11,11,10,9,15,22,10]},"legend":null}}},
  {"data":{"name":"labels"},"mark":{"type":"text","fontWeight":"bold","align":"center","baseline":"middle"},
   "encoding":{"x":{"field":"t","type":"quantitative"},"y":{"field":"v","type":"quantitative","axis":null},"text":{"field":"text"},
   "fill":{"field":"kind","type":"nominal","scale":{"domain":["blue","bluebig","yellow","red","white","black","purple","date","url","title","sub"],"range":["#0000ee","#0000ee","#ffff00","#ff0000","#ffffff","#000000","#7a7aec","#ffffff","#0000dd","#ffffff","#ffffff"]},"legend":null},
   "size":{"field":"kind","type":"nominal","scale":{"type":"ordinal","domain":["blue","bluebig","yellow","red","white","black","purple","date","url","title","sub"],"range":[10,11.5,10.5,11,11,11,10,9,15,22,10]},"legend":null}}}
 ],
 "resolve":{"scale":{"color":"independent","stroke":"independent","fill":"independent","size":"independent","strokeWidth":"independent","shape":"independent"}}}
],
"resolve":{"scale":{"y":"independent"}}
}
